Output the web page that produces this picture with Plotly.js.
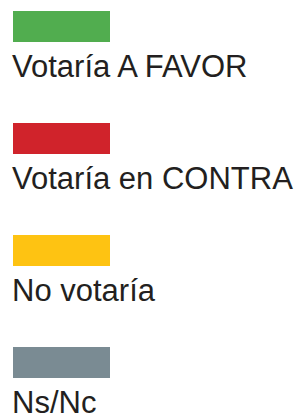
<!DOCTYPE html>
<html>
<head>
<meta charset="utf-8">
<script src="https://cdn.plot.ly/plotly-3.0.1.min.js"></script>
<style>html,body{margin:0;padding:0;background:#fff;}#chart{width:304px;height:417px;}</style>
</head>
<body>
<div id="chart"></div>
<script>
const categories = ["Votaría A FAVOR", "Votaría en CONTRA", "No votaría", "Ns/Nc"];
const swatchValues = [1, 1, 1, 1];
const colors = ["#51ad4f", "#d0232b", "#fec312", "#7a8b93"];
const positions = [0, 1, 2, 3];

const trace = {
  type: "bar",
  orientation: "h",
  x: swatchValues,
  y: positions,
  width: 0.277,
  marker: {color: colors, line: {width: 0}},
  hoverinfo: "none",
  showlegend: false
};

const annotations = categories.map((c, i) => ({
  text: c,
  xref: "paper", x: 0, xanchor: "left", xshift: -2,
  yref: "y", y: positions[i] + 0.355, yanchor: "middle",
  showarrow: false,
  borderpad: 0,
  font: {family: "Liberation Sans, Arial, sans-serif", size: 31, color: "#231f20"}
}));

Plotly.newPlot("chart", [trace], {
  width: 304, height: 417,
  margin: {l: 13, r: 194, t: 0, b: 0, pad: 0},
  paper_bgcolor: "#fff", plot_bgcolor: "#fff",
  xaxis: {range: [0, 1], visible: false, fixedrange: true},
  yaxis: {range: [3.4866, -0.2366], visible: false, fixedrange: true},
  annotations: annotations,
  showlegend: false
}, {staticPlot: true, displayModeBar: false});
</script>
</body>
</html>
